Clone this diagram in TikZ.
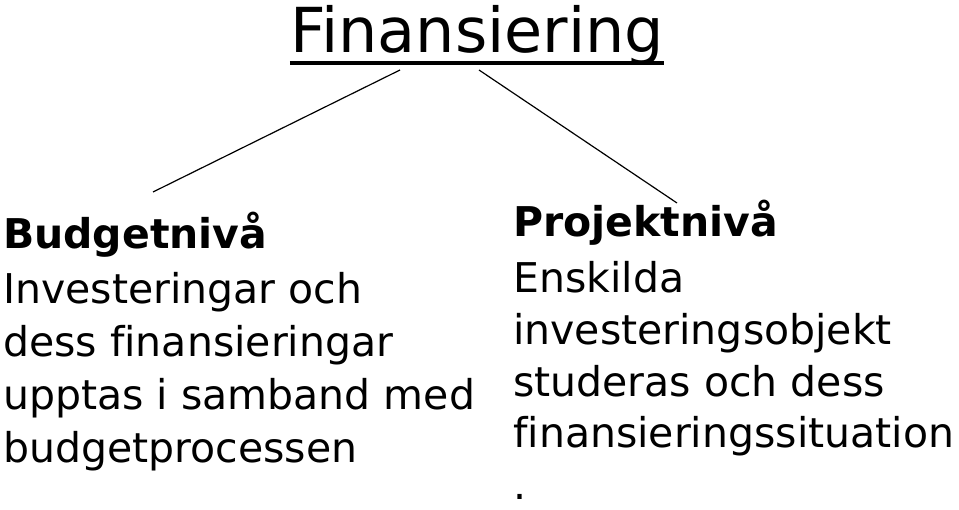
\documentclass[tikz,border=0pt]{standalone}
\usepackage{fontspec}
\setmainfont[Ligatures=NoCommon]{DejaVu Sans}
\usetikzlibrary{positioning,calc}

\tikzset{
  leveltitle/.style={inner sep=0pt, anchor=base west, font=\bfseries\fontsize{41}{50}\selectfont},
  leveltext/.style={inner sep=0pt, anchor=base west, align=left, font=\fontsize{41}{53}\selectfont},
}

\begin{document}
\begin{tikzpicture}[x=1pt, y=-1pt]
  \useasboundingbox (0,0) rectangle (959,510);

  % Title
  \node[inner sep=0pt, anchor=base, font=\fontsize{62}{70}\selectfont] (title) at (477,53) {Finansiering};
  \draw[line width=4pt] ([yshift=-10pt]title.base west) -- ([yshift=-10pt]title.base east);

  % Budget level (anchor is the last line)
  \node[leveltitle] (budget) at (3,249) {Budgetnivå};
  \node[leveltext] (budgettext) at (3,463) {Investeringar och\\dess finansieringar\\upptas i samband med\\budgetprocessen};

  % Project level
  \node[leveltitle] (projekt) at (513,237) {Projektnivå};
  \node[leveltext, font=\fontsize{41}{52}\selectfont] (projekttext) at (513,500) {Enskilda\\investeringsobjekt\\studeras och dess\\finansieringssituation\\.};

  % Lines
  \coordinate (titleleft) at (400,70);
  \coordinate (titleright) at (479,70);
  \coordinate (budgetend) at (153,192);
  \coordinate (projektend) at (677,203);
  \draw[line width=1.2pt] (titleleft) -- (budgetend);
  \draw[line width=1.2pt] (titleright) -- (projektend);
\end{tikzpicture}
\end{document}
